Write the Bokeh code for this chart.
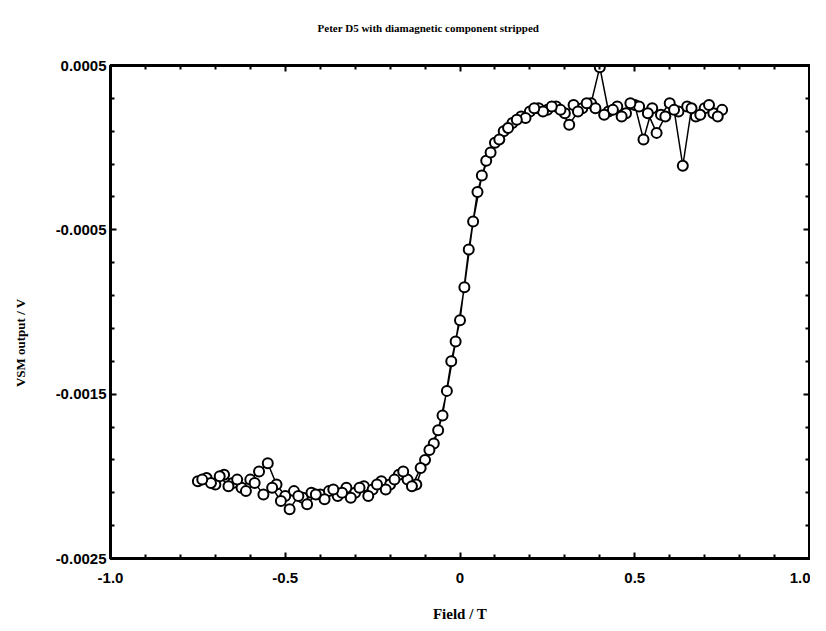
from bokeh.plotting import figure
from bokeh.models import Range1d, FixedTicker, LinearAxis, ColumnDataSource
from bokeh.embed import file_html
from bokeh.resources import INLINE

title_text = "Peter D5 with diamagnetic component stripped"
x_label = "Field / T"
y_label = "VSM output / V"

x_major = [-1.0, -0.5, 0.0, 0.5, 1.0]
x_labels = ["-1.0", "-0.5", "0", "0.5", "1.0"]
x_minor = [-0.9, -0.8, -0.7, -0.6, -0.4, -0.3, -0.2, -0.1, 0.1, 0.2, 0.3, 0.4, 0.6, 0.7, 0.8, 0.9]
y_major = [0.0005, -0.0005, -0.0015, -0.0025]
y_labels = ["0.0005", "-0.0005", "-0.0015", "-0.0025"]
y_minor = [0.0003, 0.0001, -0.0001, -0.0003, -0.0007, -0.0009, -0.0011, -0.0013,
           -0.0017, -0.0019, -0.0021, -0.0023]

# sweep up
field_up = [-0.750, -0.725, -0.700, -0.675, -0.650, -0.625, -0.600, -0.575, -0.550, -0.525,
            -0.500, -0.475, -0.450, -0.425, -0.400, -0.375, -0.350, -0.325, -0.300, -0.275,
            -0.250, -0.225, -0.200, -0.175, -0.150, -0.125, -0.100, -0.075, -0.050, -0.025,
            0.000, 0.025, 0.050, 0.075, 0.100, 0.125, 0.150, 0.175, 0.200, 0.225,
            0.250, 0.275, 0.300, 0.325, 0.350, 0.375, 0.400, 0.425, 0.450, 0.475,
            0.500, 0.525, 0.550, 0.575, 0.600, 0.625, 0.650, 0.675, 0.700, 0.725, 0.750]
vsm_up = [-0.00203, -0.00201, -0.00205, -0.00199, -0.00204, -0.00207, -0.00202, -0.00197, -0.00192, -0.00205,
          -0.00212, -0.00209, -0.00213, -0.00210, -0.00211, -0.00209, -0.00212, -0.00207, -0.00210, -0.00206,
          -0.00208, -0.00203, -0.00205, -0.00199, -0.00202, -0.00205, -0.00190, -0.00180, -0.00163, -0.00130,
          -0.00105, -0.00062, -0.00027, -0.00008, 0.00003, 0.00010, 0.00015, 0.00019, 0.00022, 0.00024,
          0.00023, 0.00025, 0.00021, 0.00026, 0.00024, 0.00027, 0.00049, 0.00022, 0.00025, 0.00021,
          0.00026, 0.00005, 0.00024, 0.00020, 0.00027, 0.00022, 0.00025, 0.00019, 0.00024, 0.00021, 0.00023]

# sweep down
field_down = [0.7375, 0.7125, 0.6875, 0.6625, 0.6375, 0.6125, 0.5875, 0.5625, 0.5375, 0.5125,
              0.4875, 0.4625, 0.4375, 0.4125, 0.3875, 0.3625, 0.3375, 0.3125, 0.2875, 0.2625,
              0.2375, 0.2125, 0.1875, 0.1625, 0.1375, 0.1125, 0.0875, 0.0625, 0.0375, 0.0125,
              -0.0125, -0.0375, -0.0625, -0.0875, -0.1125, -0.1375, -0.1625, -0.1875, -0.2125, -0.2375,
              -0.2625, -0.2875, -0.3125, -0.3375, -0.3625, -0.3875, -0.4125, -0.4375, -0.4625, -0.4875,
              -0.5125, -0.5375, -0.5625, -0.5875, -0.6125, -0.6375, -0.6625, -0.6875, -0.7125, -0.7375]
vsm_down = [0.00019, 0.00026, 0.00020, 0.00024, -0.00011, 0.00023, 0.00019, 0.00009, 0.00021, 0.00025,
            0.00027, 0.00019, 0.00023, 0.00020, 0.00024, 0.00027, 0.00022, 0.00014, 0.00023, 0.00025,
            0.00022, 0.00024, 0.00018, 0.00017, 0.00012, 0.00005, -0.00003, -0.00017, -0.00045, -0.00085,
            -0.00118, -0.00148, -0.00172, -0.00184, -0.00195, -0.00206, -0.00197, -0.00202, -0.00208, -0.00205,
            -0.00212, -0.00207, -0.00213, -0.00210, -0.00208, -0.00214, -0.00211, -0.00217, -0.00212, -0.00220,
            -0.00215, -0.00207, -0.00211, -0.00204, -0.00209, -0.00202, -0.00206, -0.00200, -0.00204, -0.00202]

field = field_up + field_down
vsm = vsm_up + vsm_down
src = ColumnDataSource(dict(x=field, y=vsm))

SERIF = "Liberation Serif"
SANS = "Liberation Sans"
NBSP = "\u00a0"

W, H = 810, 628
p = figure(width=W, height=H, output_backend="svg", toolbar_location=None,
           x_range=Range1d(-1.0, 1.0), y_range=Range1d(-0.0025, 0.0005),
           min_border_left=110, min_border_right=1, min_border_top=65, min_border_bottom=70)

p.grid.visible = False
p.outline_line_color = "black"
p.outline_line_width = 3
p.background_fill_color = "white"
p.border_fill_color = "white"

def style_axis(ax, labels):
    ax.axis_line_width = 3
    ax.axis_line_color = "black"
    ax.major_tick_in = 6
    ax.major_tick_out = 0
    ax.minor_tick_in = 4
    ax.minor_tick_out = 0
    ax.major_tick_line_width = 2
    ax.minor_tick_line_width = 2
    ax.major_label_text_font = SANS
    ax.major_label_text_font_style = "bold"
    ax.major_label_text_font_size = "15px"
    ax.major_label_text_color = "black" if labels else None
    ax.axis_label_text_font = SERIF
    ax.axis_label_text_font_style = "bold"
    ax.axis_label_text_font_size = "15px"
    ax.axis_label_text_color = "black"

xa = p.xaxis[0]
xa.ticker = FixedTicker(ticks=x_major, minor_ticks=x_minor)
xa.major_label_overrides = {v: s for v, s in zip(x_major, x_labels)}
xa.axis_label = x_label
xa.axis_label_standoff = 20
xa.major_label_standoff = 14
style_axis(xa, True)

ya = p.yaxis[0]
ya.ticker = FixedTicker(ticks=y_major, minor_ticks=y_minor)
ya.major_label_overrides = {v: s for v, s in zip(y_major, y_labels)}
ya.major_label_standoff = 4
style_axis(ya, True)
# y title sits below the frame centre in the original: trailing no-break spaces shift it
ya.axis_label = y_label + NBSP * 19
ya.axis_label_text_font_size = "13px"
ya.axis_label_standoff = 25

# top mirror axis (ticks only) carries the chart title, shifted left of centre
top = LinearAxis(ticker=FixedTicker(ticks=x_major, minor_ticks=x_minor))
style_axis(top, False)
top.major_label_text_font_size = "0px"
top.major_label_standoff = 0
top.axis_label = title_text + NBSP * 23
top.axis_label_text_font_size = "11px"
top.axis_label_standoff = 32
p.add_layout(top, "above")

right = LinearAxis(ticker=FixedTicker(ticks=y_major, minor_ticks=y_minor))
style_axis(right, False)
right.major_label_text_font_size = "0px"
right.major_label_standoff = 0
p.add_layout(right, "right")

p.line("x", "y", source=src, line_color="black", line_width=1.5)
p.scatter("x", "y", source=src, size=10, marker="circle", fill_color="white",
          line_color="black", line_width=2)

open("out.html", "w").write(file_html(p, INLINE))
